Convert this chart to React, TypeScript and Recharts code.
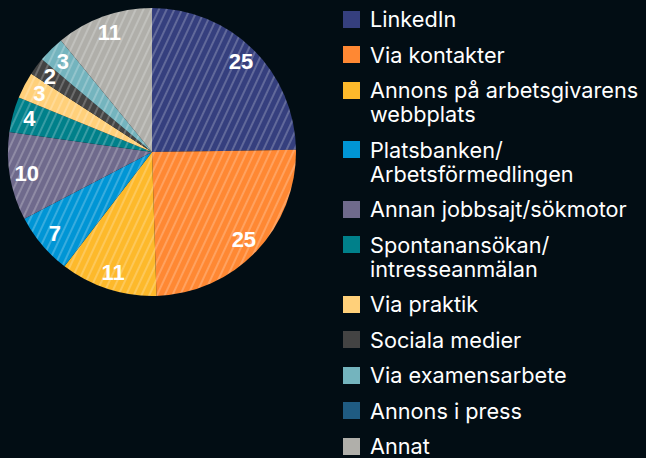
import { PieChart, Pie, Cell, Legend } from "recharts";

const categories = [
  "LinkedIn",
  "Via kontakter",
  "Annons på arbetsgivarens\nwebbplats",
  "Platsbanken/\nArbetsförmedlingen",
  "Annan jobbsajt/sökmotor",
  "Spontanansökan/\nintresseanmälan",
  "Via praktik",
  "Sociala medier",
  "Via examensarbete",
  "Annons i press",
  "Annat",
];
const values = [25, 25, 11, 7, 10, 4, 3, 2, 3, 0, 11];
const colors = [
  "#353f7e",
  "#ff8833",
  "#fdb92b",
  "#0095d5",
  "#6f6a8c",
  "#00808a",
  "#ffd07a",
  "#434343",
  "#74b4be",
  "#1f5b82",
  "#b0afaa",
];

const data = categories.map((name, i) => ({ name, value: values[i] }));

const RADIAN = Math.PI / 180;

const renderLabel = (props: any) => {
  const { cx, cy, midAngle, value } = props;
  if (!value) return null;
  const r = 127;
  const x = cx + r * Math.cos(-midAngle * RADIAN);
  const y = cy + r * Math.sin(-midAngle * RADIAN);
  return (
    <text
      x={x}
      y={y}
      fill="#fff"
      textAnchor="middle"
      dominantBaseline="central"
      fontFamily="'Liberation Sans', Arial, sans-serif"
      fontWeight="bold"
      fontSize={22}
    >
      {value}
    </text>
  );
};

const renderLegend = () => (
  <div style={{ fontFamily: "Inter, sans-serif", fontSize: 21.7, lineHeight: "24px", color: "#fff" }}>
    {categories.map((name, i) => (
      <div key={name} style={{ position: "relative", paddingLeft: 27, marginBottom: 11.5, whiteSpace: "pre-line" }}>
        <span
          style={{
            position: "absolute",
            left: 0,
            top: 3.5,
            width: 17,
            height: 17,
            background: colors[i],
          }}
        />
        {name}
      </div>
    ))}
  </div>
);

export default function App() {
  return (
    <div style={{ position: "fixed", left: 0, top: 0, width: 646, height: 458, background: "#020d14", overflow: "hidden" }}>
      <PieChart width={646} height={458} margin={{ top: 0, right: 0, bottom: 0, left: 0 }}>
        <defs>
          {colors.map((c, i) => (
            <pattern
              key={i}
              id={`hatch-${i}`}
              width={7}
              height={7}
              patternUnits="userSpaceOnUse"
              patternTransform="rotate(25)"
            >
              <rect width={7} height={7} fill={c} />
              <rect x={0} y={0} width={2} height={7} fill="#fff" fillOpacity={0.22} />
            </pattern>
          ))}
        </defs>
        <Pie
          data={data}
          dataKey="value"
          nameKey="name"
          cx={152}
          cy={152}
          outerRadius={144}
          startAngle={90}
          endAngle={-270}
          stroke="none"
          label={renderLabel}
          labelLine={false}
          isAnimationActive={false}
        >
          {data.map((d, i) => (
            <Cell key={d.name} fill={`url(#hatch-${i})`} />
          ))}
        </Pie>
        <Legend
          content={renderLegend}
          wrapperStyle={{ position: "absolute", left: 343, top: 7, width: 303 }}
        />
      </PieChart>
    </div>
  );
}
